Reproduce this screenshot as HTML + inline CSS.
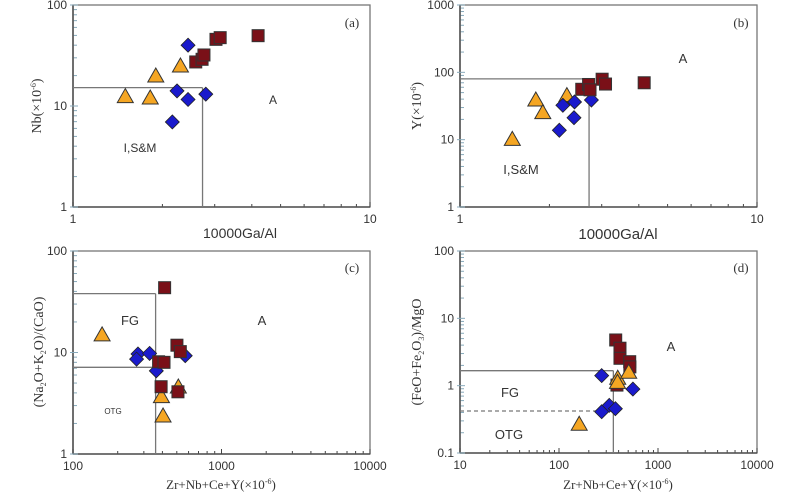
<!DOCTYPE html>
<html><head><meta charset="utf-8"><style>
html,body{margin:0;padding:0;background:#fff;}
svg{display:block;}
text{font-family:"Liberation Sans",sans-serif;fill:#333;}
.serif{font-family:"Liberation Serif",serif;}
</style></head><body>
<svg id="chart" width="800" height="493" viewBox="0 0 800 493"></svg>
<script>
// ---- Panel (a) data: 10000Ga/Al vs Nb
const aTriX=[1.50,1.82,1.90,2.30];
const aTriY=[12.4,12.0,19.8,24.9];
const aDiaX=[2.44,2.24,2.44,2.80,2.16];
const aDiaY=[40,14.1,11.6,13.1,6.95];
const aSqX=[2.59,2.72,2.76,3.03,3.13,4.2];
const aSqY=[27.3,29,32,45.7,47.5,49.7];
// ---- Panel (b) data: 10000Ga/Al vs Y
const bTriX=[1.50,1.80,1.90,2.29];
const bTriY=[10.1,38.8,25.2,45];
const bDiaX=[2.16,2.22,2.43,2.42,2.77];
const bDiaY=[13.8,32.4,36.3,21.2,38.8];
const bSqX=[2.57,2.71,2.74,3.01,3.09,4.17];
const bSqY=[56,66,55,79,67,70];
// ---- Panel (c) data: Zr+Nb+Ce+Y vs (Na2O+K2O)/CaO
const cTriX=[157,394,404,512];
const cTriY=[14.9,3.67,2.37,4.57];
const cDiaX=[274,268,328,364,570];
const cDiaY=[9.67,8.6,9.8,6.6,9.3];
const cSqX=[414,377,410,392,501,528,509];
const cSqY=[43.5,8.1,8.0,4.6,11.8,10.2,4.1];
// ---- Panel (d) data: Zr+Nb+Ce+Y vs (FeO+Fe2O3)/MgO
const dTriX=[160,392,506,390];
const dTriY=[0.267,1.29,1.58,1.12];
const dDiaX=[270,270,322,371,558];
const dDiaY=[1.41,0.41,0.51,0.455,0.89];
const dSqX=[374,413,413,518,520,385];
const dSqY=[4.77,3.6,2.55,2.27,1.9,1.02];

const NS="http://www.w3.org/2000/svg";
const svg=document.getElementById('chart');
function mk(tag,attrs,parent){const e=document.createElementNS(NS,tag);for(const k in attrs)e.setAttribute(k,attrs[k]);(parent||svg).appendChild(e);return e;}
function txt(s,x,y,opt,parent){const t=mk('text',Object.assign({x:x,y:y},opt||{}),parent);t.innerHTML=s;return t;}

function panel(name,box,xr,yr,xticks,yticks){
  const g=mk('g',{});
  
  
  const sx=v=>box.x0+(Math.log10(v)-Math.log10(xr[0]))/(Math.log10(xr[1])-Math.log10(xr[0]))*(box.x1-box.x0);
  const sy=v=>box.y1-(Math.log10(v)-Math.log10(yr[0]))/(Math.log10(yr[1])-Math.log10(yr[0]))*(box.y1-box.y0);
  const frame=mk('rect',{x:box.x0,y:box.y0,width:box.x1-box.x0,height:box.y1-box.y0,fill:'none',stroke:'#777','stroke-width':1.3},g);
  
  
  for(let d=Math.log10(xr[0]);d<Math.log10(xr[1]);d++){
    for(let m=2;m<=9;m++){const x=sx(m*Math.pow(10,d));mk('line',{x1:x,x2:x,y1:box.y1,y2:box.y1-3,stroke:'#444','stroke-width':1},g);}
  }
  for(let d=Math.log10(yr[0]);d<Math.log10(yr[1]);d++){
    for(let m=2;m<=9;m++){const y=sy(m*Math.pow(10,d));mk('line',{x1:box.x0,x2:box.x0+4,y1:y,y2:y,stroke:'#8ab','stroke-width':1},g);}
  }
  mk('line',{x1:box.x0,x2:box.x0,y1:box.y0,y2:box.y1,stroke:'#555','stroke-width':1.6},g);
  mk('line',{x1:box.x0,x2:box.x1,y1:box.y1,y2:box.y1,stroke:'#555','stroke-width':1.6},g);
  xticks.forEach(v=>{const x=sx(v);mk('line',{x1:x,x2:x,y1:box.y1,y2:box.y1-5,stroke:'#444'},g);
    const t=txt(String(v),x,box.y1+16,{'font-size':12,'text-anchor':'middle'},g);
    });
  yticks.forEach(v=>{const y=sy(v);mk('line',{x1:box.x0-3,x2:box.x0+5,y1:y,y2:y,stroke:'#8ab'},g);
    const t=txt(String(v),box.x0-6,y+4,{'font-size':12,'text-anchor':'end'},g);
    });
  return {g,sx,sy,box};
}
function tri(p,xs,ys){xs.forEach((v,i)=>{const x=p.sx(v),y=p.sy(ys[i]);
  const e=mk('polygon',{points:`${x},${y-8} ${x-8},${y+6} ${x+8},${y+6}`,fill:'#f5a623',stroke:'#333','stroke-width':1},p.g);
  
  });}
function dia(p,xs,ys){xs.forEach((v,i)=>{const x=p.sx(v),y=p.sy(ys[i]);
  const e=mk('polygon',{points:`${x},${y-7} ${x+7},${y} ${x},${y+7} ${x-7},${y}`,fill:'#1a1acc',stroke:'#222','stroke-width':0.8},p.g);
  
  });}
function sq(p,xs,ys){xs.forEach((v,i)=>{const x=p.sx(v),y=p.sy(ys[i]);
  const e=mk('rect',{x:x-6,y:y-6,width:12,height:12,fill:'#7a1018',stroke:'#333','stroke-width':1},p.g);
  
  });}
function line(p,x1,y1,x2,y2,dash){const e=mk('line',{x1:p.sx(x1),y1:p.sy(y1),x2:p.sx(x2),y2:p.sy(y2),stroke:'#777','stroke-width':1.3},p.g);
  if(dash)e.setAttribute('stroke-dasharray','4,3');
  
  }
function label(p,s,x,y,opt,nm){const t=txt(s,x,y,opt,p.g);}

// Panel a
const pa=panel('panel-a',{x0:73,x1:370,y0:5,y1:207},[1,10],[1,100],[1,10],[1,10,100]);
line(pa,1,15.2,2.73,15.2);line(pa,2.73,1,2.73,15.2);
tri(pa,aTriX,aTriY);dia(pa,aDiaX,aDiaY);sq(pa,aSqX,aSqY);
label(pa,'(a)',352,27,{'font-size':13,'text-anchor':'middle',class:'serif'},'panel-label');
label(pa,'A',273,104,{'font-size':12,'text-anchor':'middle'},'field-a-label');
label(pa,'I,S&amp;M',140,152,{'font-size':12,'text-anchor':'middle'},'field-ism-label');
label(pa,'10000Ga/Al',240,238,{'font-size':14,'text-anchor':'middle'},'x-axis-title');
label(pa,'Nb(×10<tspan font-size="8" dy="-5">-6</tspan><tspan dy="5">)</tspan>',0,0,{'font-size':14,'text-anchor':'middle',class:'serif',transform:'translate(41,106) rotate(-90)'},'y-axis-title');

// Panel b
const pb=panel('panel-b',{x0:460,x1:757,y0:5,y1:207},[1,10],[1,1000],[1,10],[1,10,100,1000]);
line(pb,1,80,2.72,80);line(pb,2.72,1,2.72,80);
tri(pb,bTriX,bTriY);dia(pb,bDiaX,bDiaY);sq(pb,bSqX,bSqY);
label(pb,'(b)',741,27,{'font-size':13,'text-anchor':'middle',class:'serif'},'panel-label');
label(pb,'A',683,63,{'font-size':13,'text-anchor':'middle'},'field-a-label');
label(pb,'I,S&amp;M',521,174,{'font-size':13,'text-anchor':'middle'},'field-ism-label');
label(pb,'10000Ga/Al',618,239,{'font-size':15,'text-anchor':'middle'},'x-axis-title');
label(pb,'Y(×10<tspan font-size="8" dy="-5">-6</tspan><tspan dy="5">)</tspan>',0,0,{'font-size':14,'text-anchor':'middle',class:'serif',transform:'translate(421,106) rotate(-90)'},'y-axis-title');

// Panel c
const pc=panel('panel-c',{x0:73,x1:370,y0:251,y1:454},[100,10000],[1,100],[100,1000,10000],[1,10,100]);
line(pc,100,38,360,38);line(pc,100,7.15,360,7.15);line(pc,360,1,360,38);
tri(pc,cTriX,cTriY);dia(pc,cDiaX,cDiaY);sq(pc,cSqX,cSqY);
label(pc,'(c)',352,272,{'font-size':13,'text-anchor':'middle',class:'serif'},'panel-label');
label(pc,'FG',130,325,{'font-size':13,'text-anchor':'middle'},'field-fg-label');
label(pc,'A',262,325,{'font-size':13,'text-anchor':'middle'},'field-a-label');
label(pc,'OTG',113,414,{'font-size':8,'text-anchor':'middle'},'field-otg-label');
label(pc,'Zr+Nb+Ce+Y(×10<tspan font-size="8" dy="-5">-6</tspan><tspan dy="5">)</tspan>',221,489,{'font-size':13,'text-anchor':'middle',class:'serif'},'x-axis-title');
label(pc,'(Na<tspan font-size="8" dy="3">2</tspan><tspan dy="-3">O+K</tspan><tspan font-size="8" dy="3">2</tspan><tspan dy="-3">O)/(CaO)</tspan>',0,0,{'font-size':14,'text-anchor':'middle',class:'serif',transform:'translate(43,352) rotate(-90)'},'y-axis-title');

// Panel d
const pd=panel('panel-d',{x0:460,x1:757,y0:251,y1:453},[10,10000],[0.1,100],[10,100,1000,10000],[0.1,1,10,100]);
line(pd,10,1.67,354,1.67);line(pd,10,0.42,354,0.42,true);line(pd,354,0.1,354,1.67);
sq(pd,dSqX,dSqY);tri(pd,dTriX,dTriY);dia(pd,dDiaX,dDiaY);
label(pd,'(d)',741,272,{'font-size':13,'text-anchor':'middle',class:'serif'},'panel-label');
label(pd,'A',671,351,{'font-size':13,'text-anchor':'middle'},'field-a-label');
label(pd,'FG',510,397,{'font-size':13,'text-anchor':'middle'},'field-fg-label');
label(pd,'OTG',509,439,{'font-size':13,'text-anchor':'middle'},'field-otg-label');
label(pd,'Zr+Nb+Ce+Y(×10<tspan font-size="8" dy="-5">-6</tspan><tspan dy="5">)</tspan>',618,489,{'font-size':13,'text-anchor':'middle',class:'serif'},'x-axis-title');
label(pd,'(FeO+Fe<tspan font-size="8" dy="3">2</tspan><tspan dy="-3">O</tspan><tspan font-size="8" dy="3">3</tspan><tspan dy="-3">)/MgO</tspan>',0,0,{'font-size':14,'text-anchor':'middle',class:'serif',transform:'translate(421,352) rotate(-90)'},'y-axis-title');
</script>
</body></html>
